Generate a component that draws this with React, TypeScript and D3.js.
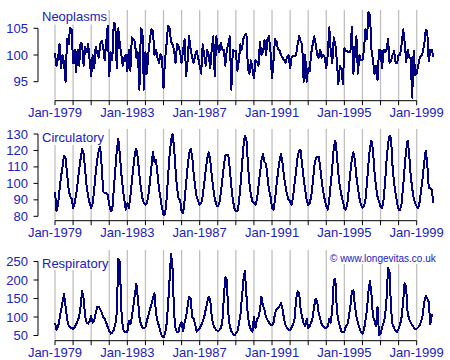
import React from "react";
import * as d3 from "d3";

const startYear = 1979;

const neoplasms = [
  100.3, 98.0, 99.2, 102.0, 97.5, 100.0, 98.5, 95.0, 103.0, 102.0, 105.0, 104.8,
  98.5, 101.0, 96.7, 101.0, 98.0, 102.3, 102.0, 98.0, 101.5, 100.5, 102.0, 99.0,
  96.0, 100.0, 97.5, 101.5, 100.5, 99.5, 102.0, 102.7, 101.5, 99.0, 102.5, 105.5,
  96.0, 100.5, 99.0, 106.0, 105.8, 97.5, 105.0, 102.0, 100.0, 98.0, 99.5, 100.0,
  97.0, 101.0, 97.0, 103.3, 103.0, 102.5, 99.5, 100.5, 93.5, 105.0, 104.5, 93.5,
  100.6, 96.5, 100.5, 103.0, 104.8, 104.5, 100.0, 101.0, 99.5, 98.5, 100.2, 99.5,
  93.8, 99.0, 102.0, 105.5, 105.0, 102.5, 102.0, 101.0, 98.5, 102.0, 101.7, 100.5,
  98.5, 101.0, 103.0, 96.0, 99.0, 103.5, 101.0, 99.5, 98.5, 100.0, 100.8, 99.5,
  98.0, 96.5, 102.0, 100.0, 98.0, 101.0, 100.0, 97.5, 101.0, 103.5, 96.0, 103.5,
  101.5, 100.5, 102.3, 101.0, 101.0, 98.0, 101.0, 102.0, 103.5, 93.5, 101.0, 100.8,
  100.8, 97.0, 99.0, 102.0, 101.0, 103.0, 103.8, 104.0, 97.5, 96.5, 99.0, 97.5,
  95.6, 99.0, 98.8, 98.0, 102.5, 100.0, 100.5, 102.8, 100.0, 103.0, 103.5, 100.5,
  95.6, 99.0, 103.0, 102.5, 101.0, 100.8, 100.0, 99.5, 99.0, 98.5, 99.6, 100.0,
  97.5, 99.5, 99.8, 99.8, 100.0, 102.0, 103.5, 102.5, 102.0, 95.0, 100.0, 95.0,
  97.5, 97.0, 100.3, 102.0, 103.5, 102.0, 100.0, 99.5, 101.0, 99.5, 100.0, 99.5,
  97.5, 100.0, 105.2, 100.5, 98.5, 103.3, 102.0, 99.0, 94.5, 98.0, 97.5, 94.6,
  101.3, 100.7, 100.7, 100.5, 100.5, 105.2, 96.5, 100.5, 103.5, 96.5, 100.0, 99.0,
  99.0, 101.0, 104.8, 103.0, 108.0, 107.5, 101.0, 99.0, 96.5, 98.0, 95.3, 101.0,
  101.0, 97.5, 101.0, 100.5, 101.0, 103.0, 98.5, 99.0, 100.0, 100.7, 98.5, 98.5,
  100.0, 100.0, 102.0, 104.8, 102.5, 98.7, 101.0, 99.5, 99.5, 92.0, 100.8, 96.3,
  96.5, 98.0, 99.5, 99.8, 100.5, 102.0, 104.7, 104.5, 98.8, 101.0, 101.0, 99.6,
];

const circulatory = [
  95, 83, 87, 96, 104, 110, 117, 115, 106, 97, 92, 91,
  85, 88, 93, 100, 108, 115, 121, 118, 108, 98, 92, 88,
  85, 88, 96, 106, 114, 120, 122, 110, 95, 94, 94, 93,
  87, 83, 84, 96, 108, 120, 127, 118, 106, 97, 90, 84,
  88, 85, 92, 101, 110, 118, 121, 115, 105, 97, 91, 88,
  87, 88, 93, 101, 110, 119, 113, 114, 106, 97, 91, 85,
  81, 81, 90, 104, 117, 126, 130, 122, 108, 97, 91, 90,
  83, 82, 90, 100, 110, 118, 121, 117, 106, 98, 92, 89,
  87, 88, 92, 100, 108, 115, 119, 114, 105, 97, 91, 87,
  86, 88, 94, 102, 110, 117, 117, 117, 109, 98, 90, 85,
  83, 83, 88, 98, 110, 122, 129, 127, 112, 100, 93, 89,
  88, 87, 90, 98, 106, 114, 118, 113, 112, 104, 96, 92,
  85, 84, 90, 99, 107, 114, 118, 112, 104, 98, 93, 90,
  89, 87, 92, 100, 108, 116, 120, 120, 111, 103, 96, 90,
  87, 88, 92, 100, 110, 115, 116, 116, 110, 101, 95, 90,
  86, 84, 90, 100, 110, 122, 126, 118, 106, 98, 93, 89,
  85, 84, 88, 97, 107, 115, 119, 114, 104, 97, 91, 87,
  85, 86, 90, 100, 112, 122, 126, 120, 107, 98, 92, 89,
  86, 85, 90, 100, 114, 124, 129, 127, 110, 100, 94, 88,
  84, 84, 88, 98, 110, 120, 126, 118, 105, 97, 91, 88,
  86, 85, 89, 96, 104, 113, 120, 112, 97, 97, 96, 88,
];

const respiratory = [
  84, 65, 72, 95, 118, 140, 162, 130, 95, 78, 72, 70,
  68, 72, 80, 90, 100, 130, 170, 150, 100, 85, 82, 88,
  102, 85, 90, 110, 128, 128, 120, 112, 100, 95, 85, 72,
  62, 55, 58, 65, 80, 110, 258, 250, 120, 70, 60, 58,
  60, 90, 80, 100, 130, 160, 190, 150, 100, 80, 72, 70,
  72, 90, 105, 120, 135, 150, 165, 110, 90, 75, 60, 47,
  45, 55, 80, 130, 200, 272, 230, 110, 70, 58, 60, 80,
  85, 62, 85, 100, 130, 155, 150, 100, 95, 80, 60, 65,
  70, 78, 88, 100, 120, 140, 155, 148, 100, 80, 70, 65,
  62, 64, 70, 85, 150, 207, 200, 110, 75, 62, 55, 50,
  55, 60, 80, 105, 150, 200, 225, 160, 100, 78, 65, 60,
  100, 70, 95, 100, 120, 155, 130, 120, 100, 92, 85, 80,
  78, 85, 110, 120, 125, 130, 137, 120, 95, 78, 70, 66,
  65, 72, 80, 95, 150, 170, 165, 120, 100, 82, 75, 95,
  70, 75, 85, 100, 130, 150, 140, 110, 95, 80, 75, 70,
  70, 75, 95, 85, 120, 200, 203, 120, 90, 75, 62, 58,
  60, 75, 80, 100, 130, 170, 172, 130, 100, 85, 70, 60,
  55, 65, 90, 120, 170, 198, 160, 100, 90, 75, 127, 52,
  55, 70, 85, 100, 150, 232, 220, 120, 80, 70, 62, 60,
  68, 80, 100, 140, 192, 180, 110, 95, 85, 78, 72, 68,
  68, 72, 78, 88, 105, 140, 157, 150, 140, 80, 105, 103,
];

const gridYears = d3.range(1979, 2000);
const labelYears = [1979, 1983, 1987, 1991, 1995, 1999];
const neoTicks = [95, 100, 105];
const circTicks = [80, 90, 100, 110, 120, 130];
const respTicks = [50, 100, 150, 200, 250];
const titles = ["Neoplasms", "Circulatory", "Respiratory"];
const credit = "\u00a9 www.longevitas.co.uk";

const TEXT = "#2020c0";
const LINE = "#000080";
const GRID = "#c0c0c0";
const FONT = "'Liberation Sans', Arial, sans-serif";

const x = d3.scaleLinear().domain([1979, 1999]).range([55, 416.7]);

type Panel = {
  title: string;
  data: number[];
  ticks: number[];
  domain: [number, number];
  range: [number, number];
  top: number;
  bottom: number;
};

const panels: Panel[] = [
  { title: titles[0], data: neoplasms, ticks: neoTicks, domain: [95, 105], range: [81.7, 28.3], top: 10, bottom: 100.7 },
  { title: titles[1], data: circulatory, ticks: circTicks, domain: [80, 130], range: [216.3, 134], top: 129, bottom: 220.7 },
  { title: titles[2], data: respiratory, ticks: respTicks, domain: [50, 250], range: [335.5, 261.5], top: 250, bottom: 340.7 },
];

function PanelView({ p, idx }: { p: Panel; idx: number }) {
  const y = d3.scaleLinear().domain(p.domain).range(p.range);
  const line = d3
    .line<number>()
    .x((_, i) => x(startYear + i / 12))
    .y((d) => y(d));
  const yTop = y(p.ticks[p.ticks.length - 1]);
  const yBot = y(p.ticks[0]);
  return (
    <g>
      {gridYears.map((yr) => (
        <line key={yr} x1={x(yr)} x2={x(yr)} y1={p.top} y2={p.bottom} stroke={GRID} strokeWidth={1.3} />
      ))}
      <rect x={40} y={p.top} width={67.5} height={idx === 0 ? 14.5 : idx === 1 ? 16 : 20} fill="white" />
      {idx === 2 && <rect x={328} y={p.top} width={115} height={14} fill="white" />}
      <path
        d={line(p.data) || ""}
        fill="none"
        stroke={LINE}
        strokeWidth={2}
        strokeLinejoin="round"
        shapeRendering="crispEdges"
      />
      <text x={42} y={idx === 0 ? 21 : idx === 1 ? 142 : 268} fill={TEXT} fontSize={13} fontFamily={FONT}>
        {p.title}
      </text>
      {idx === 2 && (
        <text x={330} y={261.5} fill={TEXT} fontSize={10} fontFamily={FONT}>
          {credit}
        </text>
      )}
      <line x1={38} x2={38} y1={yTop} y2={yBot} stroke="black" strokeWidth={1} />
      {p.ticks.map((t) => (
        <g key={t}>
          <line x1={33.5} x2={38} y1={y(t)} y2={y(t)} stroke="black" strokeWidth={1} />
          <text x={28} y={y(t) + 4.5} textAnchor="end" fill={TEXT} fontSize={13} fontFamily={FONT}>
            {t}
          </text>
        </g>
      ))}
      <line x1={x(1979)} x2={x(1999)} y1={p.bottom} y2={p.bottom} stroke="black" strokeWidth={1} />
      {gridYears.map((yr) => (
        <line key={"t" + yr} x1={x(yr)} x2={x(yr)} y1={p.bottom} y2={p.bottom + 4.5} stroke="black" strokeWidth={1} />
      ))}
      {labelYears.map((yr) => (
        <text key={"l" + yr} x={x(yr)} y={p.bottom + 16.5} textAnchor="middle" fill={TEXT} fontSize={13} fontFamily={FONT}>
          {"Jan-" + yr}
        </text>
      ))}
    </g>
  );
}

export default function App() {
  return (
    <svg
      width={450}
      height={360}
      style={{ position: "absolute", left: 0, top: 0, background: "white" }}
    >
      <rect width={450} height={360} fill="white" />
      {panels.map((p, i) => (
        <PanelView key={i} p={p} idx={i} />
      ))}
    </svg>
  );
}
